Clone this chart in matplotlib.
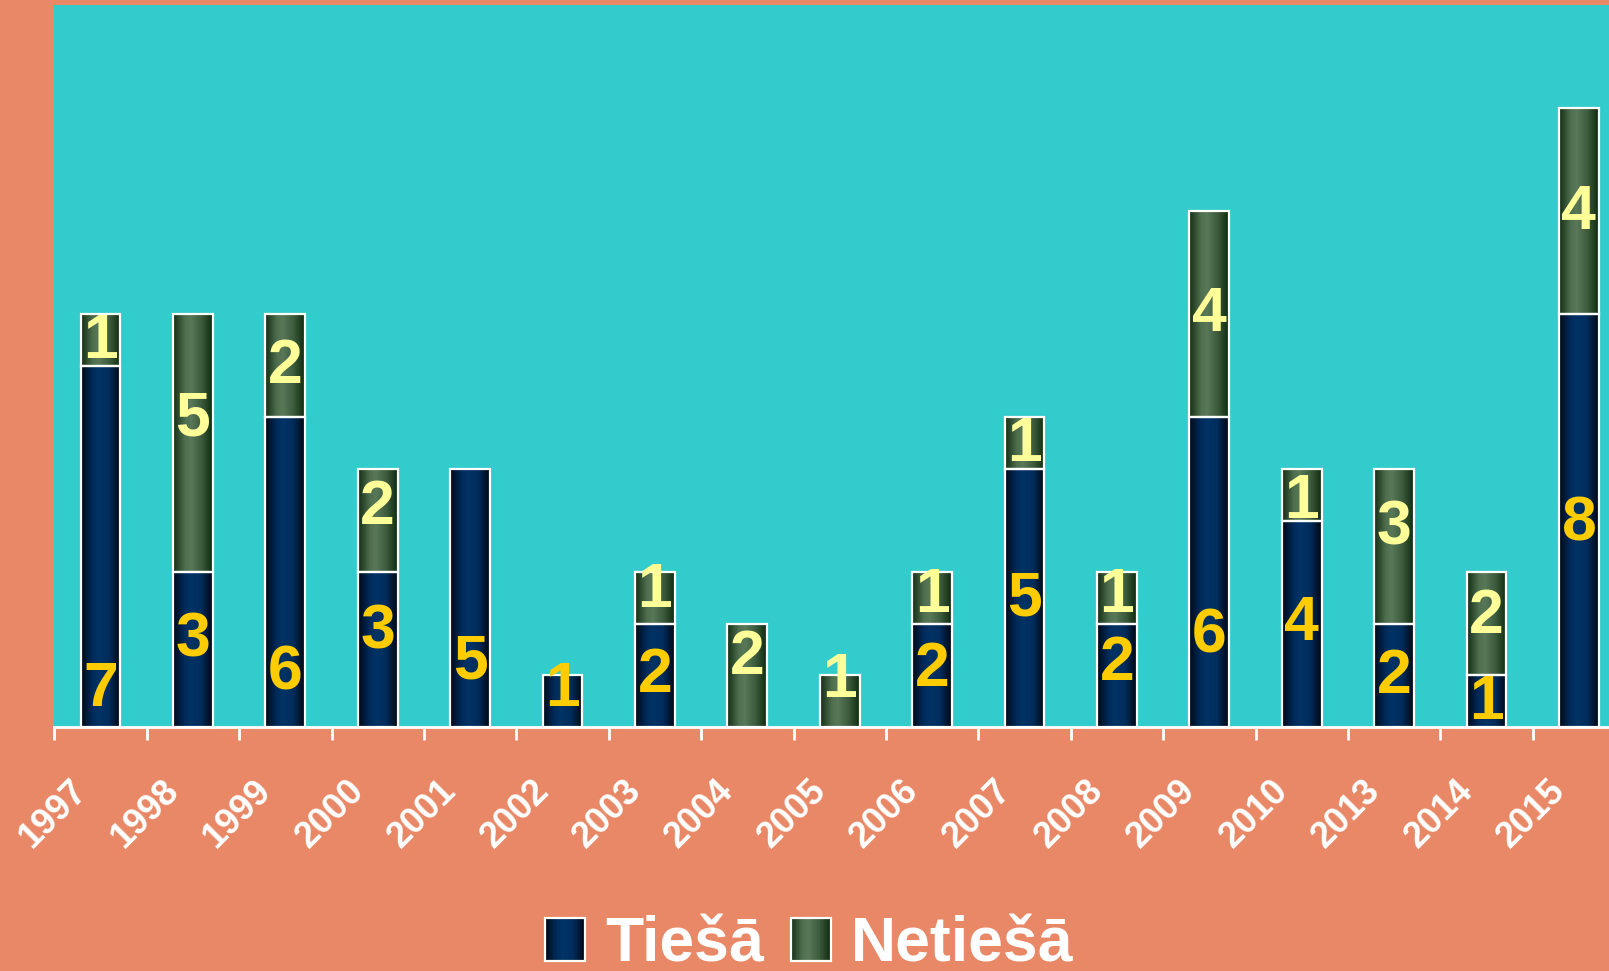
import numpy as np
import matplotlib
matplotlib.use('Agg')
import matplotlib.pyplot as plt
from matplotlib.colors import LinearSegmentedColormap
from matplotlib.patches import Rectangle
from matplotlib.legend_handler import HandlerBase
import matplotlib.transforms as mtransforms

# ---- data ----
years = ['1997', '1998', '1999', '2000', '2001', '2002', '2003', '2004', '2005',
         '2006', '2007', '2008', '2009', '2010', '2013', '2014', '2015']
tiesa = [7, 3, 6, 3, 5, 1, 2, 0, 0, 2, 5, 2, 6, 4, 2, 1, 8]
netiesa = [1, 5, 2, 2, 0, 0, 1, 2, 1, 1, 1, 1, 4, 1, 3, 2, 4]
series_names = ['Tiešā', 'Netiešā']

# label anchor heights (data units) as placed in the original
tiesa_label_y = [0.72, 1.69, 1.05, 1.83, 1.25, 0.72, 1.0, None, None, 1.11, 2.47,
                 1.23, 1.75, 2.0, 0.98, 0.46, 3.94]
netiesa_label_y = [7.48, 5.97, 6.98, 4.26, None, None, 2.65, 1.35, 0.9, 2.55, 5.47,
                   2.55, 8.0, 4.36, 3.86, 2.13, 9.97]

# ---- style ----
BG = '#E98866'
PLOT_BG = '#33CCCC'
navy_cmap = LinearSegmentedColormap.from_list(
    'navy', [(0, '#000814'), (0.28, '#002a58'), (0.45, '#003366'),
             (0.7, '#002d5c'), (1.0, '#000510')])
green_cmap = LinearSegmentedColormap.from_list(
    'green', [(0, '#132d13'), (0.3, '#4f6f4f'), (0.45, '#587858'),
              (0.72, '#3c5a3c'), (1.0, '#0f2a0f')])
FONT = 'Liberation Sans'

W, H = 1609, 971
fig = plt.figure(figsize=(W / 100, H / 100), dpi=100, facecolor=BG)
ax_left = 54.3 / W
ax_bottom = (H - 726.7) / H
ax_top = (H - 5) / H
ax_w = 17 * 92.4 / W
ax = fig.add_axes([ax_left, ax_bottom, ax_w, ax_top - ax_bottom])
ax.set_facecolor(PLOT_BG)

x = np.arange(len(years))
bw = 0.43
b1 = ax.bar(x, tiesa, width=bw, facecolor='none', edgecolor='white',
            linewidth=1.6, zorder=3)
b2 = ax.bar(x, netiesa, width=bw, bottom=tiesa, facecolor='none',
            edgecolor='white', linewidth=1.6, zorder=3)

grad = np.linspace(0, 1, 256).reshape(1, -1)
for cont, cmap in ((b1, navy_cmap), (b2, green_cmap)):
    for r in cont.patches:
        h = r.get_height()
        if h <= 0:
            r.set_visible(False)
            continue
        x0, y0, w = r.get_x(), r.get_y(), r.get_width()
        ax.imshow(grad, extent=[x0, x0 + w, y0, y0 + h], aspect='auto',
                  cmap=cmap, interpolation='bilinear', zorder=2)

# value labels
for i in range(len(years)):
    if tiesa_label_y[i] is not None and tiesa[i] > 0:
        ax.text(x[i], tiesa_label_y[i], str(tiesa[i]), ha='center', va='center',
                color='#FFCC00', fontsize=45, fontweight='bold', family=FONT, zorder=5)
    if netiesa_label_y[i] is not None and netiesa[i] > 0:
        ax.text(x[i], netiesa_label_y[i], str(netiesa[i]), ha='center', va='center',
                color='#FFFF99', fontsize=45, fontweight='bold', family=FONT, zorder=5)

ax.set_xlim(-0.5, len(years) - 0.5)
ax.set_ylim(0, 14)
for s in ('left', 'right', 'top'):
    ax.spines[s].set_visible(False)
ax.spines['bottom'].set_color('white')
ax.spines['bottom'].set_linewidth(2)
ax.set_yticks([])

ax.set_xticks(np.arange(-0.5, len(years), 1.0))
ax.set_xticklabels([])
ax.tick_params(axis='x', which='major', length=9, width=2, color='white', direction='out')
ax.set_xticks(x, minor=True)
ax.set_xticklabels(years, minor=True, rotation=45, ha='right', va='center',
                   rotation_mode='anchor', color='white', fontsize=26,
                   fontweight='bold', family=FONT)
ax.tick_params(axis='x', which='minor', length=0, pad=0)
off = mtransforms.ScaledTranslation(-19 / 100, -59 / 100, fig.dpi_scale_trans)
for lab in ax.get_xticklabels(minor=True):
    lab.set_transform(lab.get_transform() + off)


class GradHandler(HandlerBase):
    def __init__(self, cmap):
        super().__init__()
        self.cmap = cmap

    def create_artists(self, legend, orig_handle, xdescent, ydescent, width,
                       height, fontsize, trans):
        arts = []
        n = 30
        for k in range(n):
            arts.append(Rectangle((-xdescent + width * k / n, -ydescent), width / n + 0.3,
                                  height, facecolor=self.cmap((k + 0.5) / n),
                                  edgecolor='none', transform=trans))
        arts.append(Rectangle((-xdescent, -ydescent), width, height, facecolor='none',
                              edgecolor='white', linewidth=1.6, transform=trans))
        return arts


h1 = Rectangle((0, 0), 1, 1)
h2 = Rectangle((0, 0), 1, 1)
leg = fig.legend([h1, h2], series_names, loc='center',
                 bbox_to_anchor=(809 / W, (H - 945) / H), ncol=2, frameon=False,
                 handler_map={h1: GradHandler(navy_cmap), h2: GradHandler(green_cmap)},
                 prop={'family': FONT, 'weight': 'bold', 'size': 45},
                 handlelength=0.64, handleheight=0.67, handletextpad=0.32,
                 columnspacing=0.43, borderaxespad=0, borderpad=0)
for t in leg.get_texts():
    t.set_color('white')

fig.savefig('out.png', dpi=100, facecolor=BG)
